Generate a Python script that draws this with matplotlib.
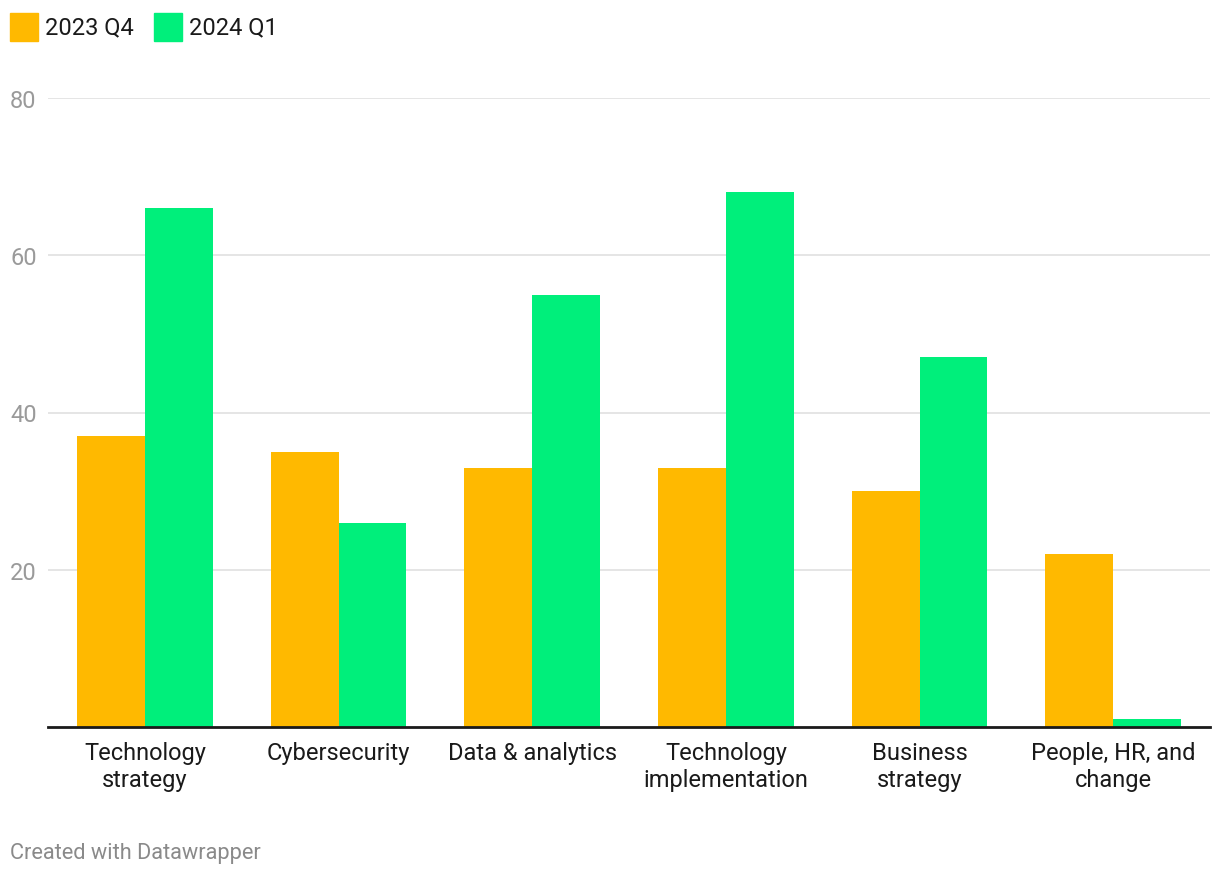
import matplotlib.pyplot as plt
import numpy as np
from matplotlib.patches import Rectangle

categories = ['Technology\nstrategy', 'Cybersecurity', 'Data & analytics',
              'Technology\nimplementation', 'Business\nstrategy', 'People, HR, and\nchange']
q4_2023 = [37, 35, 33, 33, 30, 22]
q1_2024 = [66, 26, 55, 68, 47, 1]
series_names = ['2023 Q4', '2024 Q1']
colors = ['#FFB900', '#00EF7B']
yticks = [20, 40, 60, 80]

plt.rcParams['font.family'] = ['Roboto', 'DejaVu Sans']

W, H = 1220, 878
fig = plt.figure(figsize=(W / 100, H / 100), dpi=100)
ax = fig.add_axes([48 / W, 1 - 728 / H, (1210 - 48) / W, (728 - 99) / H])

x = np.arange(len(categories))
width = 0.35
ax.bar(x - width / 2, q4_2023, width, color=colors[0], zorder=2)
ax.bar(x + width / 2, q1_2024, width, color=colors[1], zorder=2)

ax.set_xlim(-0.5, len(categories) - 0.5)
ax.set_ylim(0, 80)
ax.set_yticks(yticks)
ax.set_yticklabels([str(t) for t in yticks], ha='left')
ax.yaxis.grid(True, color='#e3e3e3', linewidth=1.3, zorder=0)
# labels start near the left edge of the figure (38 px left of the axis)
ax.tick_params(axis='y', length=0, pad=38 * 0.72, labelsize=17, labelcolor='#9a9a9a')
ax.set_xticks(x)
ax.set_xticklabels(categories, fontsize=17, color='#1a1a1a', linespacing=1.25)
ax.tick_params(axis='x', length=0, pad=10)

for s in ['top', 'right', 'left']:
    ax.spines[s].set_visible(False)
ax.spines['bottom'].set_color('#1a1a1a')
ax.spines['bottom'].set_linewidth(2)
ax.spines['bottom'].set_zorder(3)

# legend at top left
leg_x = [10, 154]
for lx, name, c in zip(leg_x, series_names, colors):
    fig.patches.append(Rectangle((lx / W, 1 - 42 / H), 28 / W, 28 / H,
                                 transform=fig.transFigure, color=c))
    fig.text((lx + 35) / W, 1 - 28 / H, name, fontsize=17, color='#1a1a1a',
             va='center', ha='left')

fig.text(10 / W, 1 - 854 / H, 'Created with Datawrapper', fontsize=15.7,
         color='#8a8a8a', va='center', ha='left')

fig.savefig('out.png', dpi=100)
